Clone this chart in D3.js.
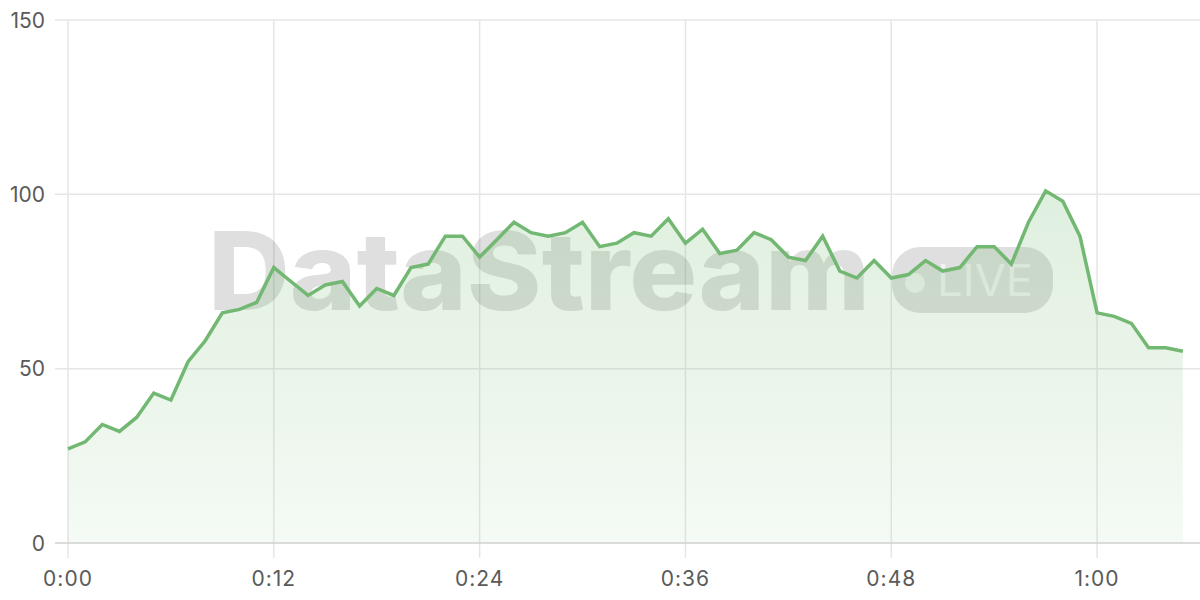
<!DOCTYPE html>
<html><head><meta charset="utf-8">
<script src="https://cdn.jsdelivr.net/npm/d3@7"></script>
<style>html,body{margin:0;padding:0;background:#fff;}svg{display:block;}</style>
</head><body>
<svg id="chart" width="1200" height="600"></svg>
<script>
const seconds = d3.range(0, 66);
const values = [27,29,34,32,36,43,41,52,58,66,67,69,79,75,71,74,75,68,73,71,79,80,88,88,82,87,92,89,88,89,92,85,86,89,88,93,86,90,83,84,89,87,82,81,88,78,76,81,76,77,81,78,79,85,85,80,92,101,98,88,66,65,63,56,56,55];
const xTicks = [0,12,24,36,48,60];
const xTickLabels = ["0:00","0:12","0:24","0:36","0:48","1:00"];
const yTicks = [0,50,100,150];

const data = seconds.map((s,i)=>({s, v: values[i]}));
const svg = d3.select("#chart");
const x = d3.scaleLinear().domain([0,66]).range([68,1200]);
const y = d3.scaleLinear().domain([0,150]).range([543,20]);
const font = "Inter, 'Open Sans', sans-serif";

// grid
svg.append("g").selectAll("line").data(yTicks.filter(d=>d>0)).join("line")
  .attr("x1",55).attr("x2",1200).attr("y1",d=>y(d)).attr("y2",d=>y(d))
  .attr("stroke","#e6e6e6").attr("stroke-width",1.5);
svg.append("g").selectAll("line").data(xTicks).join("line")
  .attr("x1",d=>x(d)).attr("x2",d=>x(d)).attr("y1",20).attr("y2",558)
  .attr("stroke","#e6e6e6").attr("stroke-width",1.5);

// watermark
const wm = svg.append("g");
wm.append("text").attr("x",208).attr("y",310).attr("textLength",662).attr("lengthAdjust","spacingAndGlyphs")
  .attr("font-family","Inter, 'Liberation Sans', sans-serif").attr("font-weight",800).attr("font-size",108)
  .attr("fill","rgba(0,0,0,0.125)").text("DataStream");
wm.append("rect").attr("x",892).attr("y",247).attr("width",161).attr("height",66).attr("rx",28)
  .attr("fill","rgba(0,0,0,0.125)");
wm.append("circle").attr("cx",915).attr("cy",283).attr("r",10).attr("fill","rgba(255,255,255,0.6)");
wm.append("text").attr("x",937).attr("y",296).attr("textLength",96).attr("lengthAdjust","spacingAndGlyphs")
  .attr("font-family","Inter, sans-serif").attr("font-size",44).attr("fill","rgba(255,255,255,0.6)").text("LIVE");

// gradient
const defs = svg.append("defs");
const grad = defs.append("linearGradient").attr("id","ag")
  .attr("gradientUnits","userSpaceOnUse").attr("x1",0).attr("x2",0).attr("y1",y(101)).attr("y2",y(0));
grad.append("stop").attr("offset","0%").attr("stop-color","#6db86d").attr("stop-opacity",0.22);
grad.append("stop").attr("offset","100%").attr("stop-color","#6db86d").attr("stop-opacity",0.07);

svg.append("path").datum(data)
  .attr("d", d3.area().x(d=>x(d.s)).y0(y(0)).y1(d=>y(d.v)))
  .attr("fill","url(#ag)");

// x axis baseline
svg.append("line").attr("x1",55).attr("x2",1200).attr("y1",y(0)).attr("y2",y(0))
  .attr("stroke","#d0d0d0").attr("stroke-width",1.5);

svg.append("path").datum(data)
  .attr("d", d3.line().x(d=>x(d.s)).y(d=>y(d.v)))
  .attr("fill","none").attr("stroke","#72b872").attr("stroke-width",3.5).attr("stroke-linejoin","miter");

// labels
svg.append("g").selectAll("text").data(yTicks).join("text")
  .attr("x",45).attr("y",d=>y(d)).attr("dy","0.36em").attr("text-anchor","end")
  .attr("font-family",font).attr("font-size",21).attr("fill","#5a5a5a").text(d=>d);
svg.append("g").selectAll("text").data(xTicks).join("text")
  .attr("x",d=>x(d)).attr("y",578).attr("dy","0.36em").attr("text-anchor","middle")
  .attr("font-family",font).attr("font-size",21).attr("letter-spacing",1).attr("fill","#5a5a5a").text((d,i)=>xTickLabels[i]);
</script>
</body></html>
